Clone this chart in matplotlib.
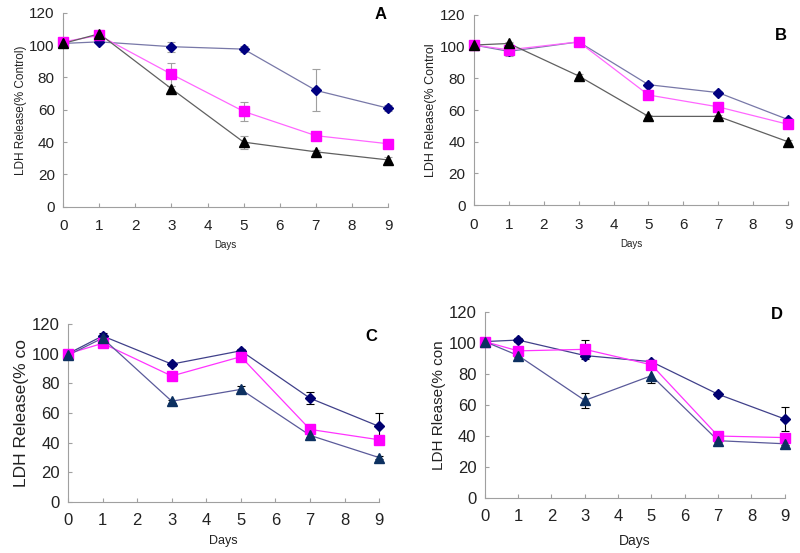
import numpy as np
import matplotlib.pyplot as plt

plt.rcParams['font.family'] = ['Liberation Sans', 'DejaVu Sans']

# --- DATA ---------------------------------------------------------------
days = [0, 1, 3, 5, 7, 9]

a_diamond = [101, 102, 99, 97.5, 72, 61]
a_square = [102, 106, 82, 59, 44, 39]
a_triangle = [101, 107, 73, 40, 34, 29]
a_diamond_err = [0, 1, 3, 2, 13, 2]
a_square_err = [0, 1, 7, 6, 1, 1]
a_triangle_err = [0, 1, 2, 4, 1, 2]

b_diamond = [101, 97, 103, 76, 71, 54]
b_square = [101, 98, 103, 69.5, 62, 51]
b_triangle = [101, 102, 81.5, 56, 56, 40]
b_diamond_err = [0, 1, 1, 1, 1, 1]
b_square_err = [0, 4, 2, 1, 1, 1]
b_triangle_err = [0, 1, 1, 1, 1, 1]

c_diamond = [100, 112, 93, 102, 70, 51]
c_square = [100, 107, 85, 98, 49, 42]
c_triangle = [99, 110.5, 68, 76, 45, 30]
c_diamond_err = [0, 2, 1, 1, 4, 9]
c_square_err = [0, 1, 1, 1, 1, 1]
c_triangle_err = [0, 1, 1, 2, 1, 1]

d_diamond = [101, 102, 92, 88, 67, 51]
d_square = [101, 95, 96, 86, 40, 39]
d_triangle = [101, 92, 63, 79, 37, 35]
d_diamond_err = [0, 1, 1, 1, 1, 8]
d_square_err = [0, 1, 6, 1, 1, 1]
d_triangle_err = [0, 1, 5, 5, 1, 1]

fig = plt.figure(figsize=(8, 5.53), dpi=100)


def draw_panel(rect, series, letter, ylabel, tick_fs, label_fs, days_fs,
               line_cols, mk_cols, err_col, letter_y, xpad, days_pad):
    ax = fig.add_axes(rect)
    markers = ['D', 's', '^']
    sizes = [5, 7, 7]
    for (vals, errs), m, ms, lc, mc in zip(series, markers, sizes, line_cols, mk_cols):
        eb = ax.errorbar(days, vals, yerr=errs, fmt='none', ecolor=err_col,
                         elinewidth=0.8, capsize=3, capthick=0.8, zorder=2)
        for child in eb.get_children():
            child.set_clip_on(False)
        ax.plot(days, vals, color=lc, lw=0.9, zorder=3, clip_on=False)
        ax.plot(days, vals, ls='none', marker=m, ms=ms, color=mc,
                markeredgecolor=mc, zorder=4, clip_on=False)
    ax.set_xlim(0, 9)
    ax.set_ylim(0, 120)
    ax.set_xticks(range(10))
    ax.set_yticks(range(0, 121, 20))
    for s in ['top', 'right']:
        ax.spines[s].set_visible(False)
    for s in ['left', 'bottom']:
        ax.spines[s].set_color('#a0a0a0')
        ax.spines[s].set_linewidth(0.8)
    ax.tick_params(direction='in', length=3, color='#a0a0a0',
                   labelsize=tick_fs, labelcolor='#222222')
    ax.tick_params(axis='x', pad=xpad)
    ax.tick_params(axis='y', pad=6)
    ax.set_ylabel(ylabel, fontsize=label_fs, color='#222222', labelpad=2)
    ax.set_xlabel('Days', fontsize=days_fs, color='#222222', labelpad=days_pad)
    ax.text(0.995, letter_y, letter, transform=ax.transAxes, ha='right', va='top',
            fontsize=12, fontweight='bold')
    return ax


top_lines = ['#7878a8', '#ff66ff', '#606060']
top_marks = ['#000080', '#ff00ff', '#000000']
bot_lines = ['#40408a', '#ff33ff', '#5a5a9a']
bot_marks = ['#000070', '#ff00ff', '#0c3060']

draw_panel([0.079, 0.626, 0.406, 0.351],
           [(a_diamond, a_diamond_err), (a_square, a_square_err),
            (a_triangle, a_triangle_err)],
           'A', 'LDH Release(% Control)', 11, 8.5, 7, top_lines, top_marks,
           '#a0a0a0', 1.03, 9, 5)

draw_panel([0.5925, 0.629, 0.3925, 0.344],
           [(b_diamond, b_diamond_err), (b_square, b_square_err),
            (b_triangle, b_triangle_err)],
           'B', 'LDH Release(% Control', 11, 9, 7, top_lines, top_marks,
           '#a0a0a0', 0.93, 9, 5)

draw_panel([0.085, 0.092, 0.389, 0.322],
           [(c_diamond, c_diamond_err), (c_square, c_square_err),
            (c_triangle, c_triangle_err)],
           'C', 'LDH Release(% co', 12, 12.5, 9, bot_lines, bot_marks,
           '#000000', 0.97, 8, 5)

draw_panel([0.606, 0.0995, 0.375, 0.336],
           [(d_diamond, d_diamond_err), (d_square, d_square_err),
            (d_triangle, d_triangle_err)],
           'D', 'LDH Rlease(% con', 12, 11, 10, bot_lines, bot_marks,
           '#000000', 1.03, 8, 7)

fig.savefig('out.png', dpi=100)
